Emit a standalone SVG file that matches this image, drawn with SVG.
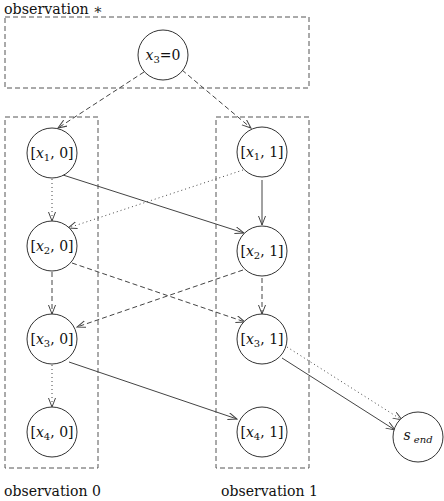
<svg xmlns="http://www.w3.org/2000/svg" width="444" height="501" viewBox="0 0 444 501">
<style>
.box{fill:none;stroke:#555;stroke-width:1;stroke-dasharray:5,3}
.node circle{fill:#fff;stroke:#333;stroke-width:1}
.node text{font-family:"DejaVu Serif","Liberation Serif",serif;font-size:14px;fill:#111;text-anchor:middle}
.lbl{font-family:"DejaVu Serif","Liberation Serif",serif;font-size:14px;fill:#111}
.e{fill:none;stroke:#444;stroke-width:1;marker-end:url(#ah)}
.dash{stroke-dasharray:5,3}
.dot{stroke-dasharray:1,3}
.it{font-style:italic}
.sub{font-size:10px}
</style>
<defs>
<marker id="ah" markerUnits="userSpaceOnUse" markerWidth="10" markerHeight="8" refX="9" refY="3.5" orient="auto">
<path d="M0,0 L9,3.5 L0,7" fill="none" stroke="#444" stroke-width="1"/>
</marker>
</defs>
<g id="clusters">
<rect class="box" x="5" y="17" width="304" height="71"/>
<rect class="box" x="5" y="117" width="93" height="351"/>
<rect class="box" x="216" y="117" width="93" height="351"/>
<text class="lbl" x="4" y="14" textLength="99" lengthAdjust="spacingAndGlyphs">observation ∗</text>
<text class="lbl" x="4" y="496" textLength="97" lengthAdjust="spacingAndGlyphs">observation 0</text>
<text class="lbl" x="221" y="496" textLength="97" lengthAdjust="spacingAndGlyphs">observation 1</text>
</g>
<g id="edges">
<line class="e dash" x1="144" y1="72" x2="58" y2="128"/>
<line class="e dash" x1="182" y1="70" x2="251" y2="128"/>
<line class="e dot" x1="52" y1="179" x2="52" y2="221"/>
<line class="e" x1="63" y1="175" x2="244" y2="233"/>
<line class="e dot" x1="243" y1="170" x2="68" y2="228"/>
<line class="e" x1="262" y1="180" x2="262" y2="225"/>
<line class="e dash" x1="52" y1="272" x2="52" y2="314"/>
<line class="e dash" x1="72" y1="263" x2="245" y2="322"/>
<line class="e dash" x1="243" y1="270" x2="77" y2="327"/>
<line class="e dash" x1="262" y1="278" x2="262" y2="314"/>
<line class="e dot" x1="52" y1="365" x2="52" y2="407"/>
<line class="e" x1="69" y1="362" x2="237" y2="419"/>
<line class="e dot" x1="287" y1="347" x2="402" y2="420"/>
<line class="e" x1="282" y1="358" x2="395" y2="430"/>
</g>
<g id="n_x3eq0" class="node"><circle cx="163" cy="55" r="25"/><text x="163" y="60"><tspan class="it">x</tspan><tspan class="sub" dy="3">3</tspan><tspan dy="-3">=0</tspan></text></g>
<g id="n_x1_0" class="node"><circle cx="52" cy="153" r="25"/><text x="52" y="158">[<tspan class="it">x</tspan><tspan class="sub" dy="3">1</tspan><tspan dy="-3">, 0]</tspan></text></g>
<g id="n_x2_0" class="node"><circle cx="52" cy="246" r="25"/><text x="52" y="251">[<tspan class="it">x</tspan><tspan class="sub" dy="3">2</tspan><tspan dy="-3">, 0]</tspan></text></g>
<g id="n_x3_0" class="node"><circle cx="52" cy="339" r="25"/><text x="52" y="344">[<tspan class="it">x</tspan><tspan class="sub" dy="3">3</tspan><tspan dy="-3">, 0]</tspan></text></g>
<g id="n_x4_0" class="node"><circle cx="52" cy="432" r="25"/><text x="52" y="437">[<tspan class="it">x</tspan><tspan class="sub" dy="3">4</tspan><tspan dy="-3">, 0]</tspan></text></g>
<g id="n_x1_1" class="node"><circle cx="262" cy="152" r="25"/><text x="262" y="157">[<tspan class="it">x</tspan><tspan class="sub" dy="3">1</tspan><tspan dy="-3">, 1]</tspan></text></g>
<g id="n_x2_1" class="node"><circle cx="262" cy="251" r="25"/><text x="262" y="256">[<tspan class="it">x</tspan><tspan class="sub" dy="3">2</tspan><tspan dy="-3">, 1]</tspan></text></g>
<g id="n_x3_1" class="node"><circle cx="262" cy="339" r="25"/><text x="262" y="344">[<tspan class="it">x</tspan><tspan class="sub" dy="3">3</tspan><tspan dy="-3">, 1]</tspan></text></g>
<g id="n_x4_1" class="node"><circle cx="262" cy="432" r="25"/><text x="262" y="437">[<tspan class="it">x</tspan><tspan class="sub" dy="3">4</tspan><tspan dy="-3">, 1]</tspan></text></g>
<g id="n_send" class="node"><circle cx="418" cy="437" r="25"/><text x="418" y="440"><tspan class="it">s</tspan><tspan class="sub it" dy="3"> end</tspan></text></g>
</svg>
